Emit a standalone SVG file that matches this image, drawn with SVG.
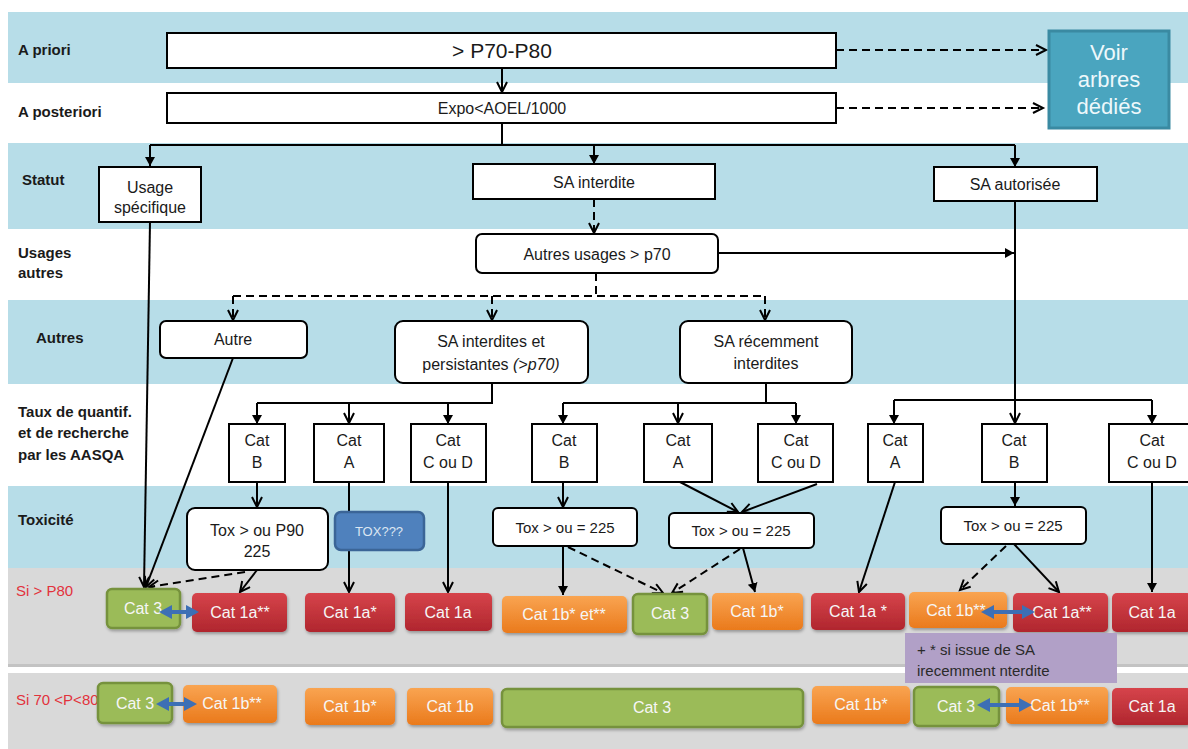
<svg xmlns="http://www.w3.org/2000/svg" width="1188" height="749" viewBox="0 0 1188 749">
<defs>
<style>
.band{fill:#b7dde8}
.gray{fill:#d9d9d9}
.gline{fill:#c3c3c3}
.box{fill:#fff;stroke:#000;stroke-width:2}
.lbl{font-family:"Liberation Sans",Arial,sans-serif;font-weight:bold;font-size:15px;fill:#1a1a1a}
.t{font-family:"Liberation Sans",Arial,sans-serif;font-size:16px;fill:#1a1a1a;text-anchor:middle}
.c{font-family:"Liberation Sans",Arial,sans-serif;font-size:16px;fill:#f6f6f6;text-anchor:middle}
.si{font-family:"Liberation Sans",Arial,sans-serif;font-size:15px;fill:#e2323c}
.red{fill:url(#gR)}
.org{fill:url(#gO)}
.grn{fill:#9bbb59;stroke:#76923c;stroke-width:2.5}
.ln{stroke:#000;stroke-width:2;fill:none}
.dash{stroke-dasharray:8,5}
.dbl{stroke:#3d6fb5;stroke-width:4;fill:none}
.sh{filter:url(#shd)}
</style>
<linearGradient id="gR" x1="0" y1="0" x2="0" y2="1">
<stop offset="0" stop-color="#d6444b"/>
<stop offset="1" stop-color="#b0262e"/>
</linearGradient>
<linearGradient id="gO" x1="0" y1="0" x2="0" y2="1">
<stop offset="0" stop-color="#f9a451"/>
<stop offset="1" stop-color="#ea7a1c"/>
</linearGradient>
<filter id="shd" x="-10%" y="-10%" width="125%" height="140%">
<feDropShadow dx="1" dy="2" stdDeviation="1.5" flood-color="#000" flood-opacity="0.3"/>
</filter>
<marker id="ao" markerUnits="userSpaceOnUse" markerWidth="14" markerHeight="14" refX="11" refY="6" orient="auto">
<path d="M1,1 L11,6 L1,11" fill="none" stroke="#000" stroke-width="2"/>
</marker>
<marker id="af" markerUnits="userSpaceOnUse" markerWidth="12" markerHeight="12" refX="9" refY="5" orient="auto">
<path d="M0,0 L9,5 L0,10 Z" fill="#000"/>
</marker>
<marker id="ab" markerUnits="userSpaceOnUse" markerWidth="16" markerHeight="16" refX="4" refY="7" orient="auto-start-reverse">
<path d="M0,0 L13,7 L0,14 Z" fill="#3d6fb5"/>
</marker>
</defs>

<g id="bands">
<rect class="band" x="8" y="12" width="1180" height="71"/>
<rect class="band" x="8" y="143" width="1180" height="86"/>
<rect class="band" x="8" y="300" width="1180" height="84"/>
<rect class="band" x="8" y="486" width="1180" height="82"/>
<rect class="gray" x="8" y="568" width="1180" height="98"/>
<rect class="gline" x="8" y="664" width="1180" height="3"/>
<rect class="gray" x="8" y="673" width="1180" height="76"/>
</g>

<g id="row-labels">
<text class="lbl" x="18" y="55">A priori</text>
<text class="lbl" x="18" y="117">A posteriori</text>
<text class="lbl" x="22" y="185">Statut</text>
<text class="lbl" x="18" y="258">Usages</text>
<text class="lbl" x="18" y="278">autres</text>
<text class="lbl" x="36" y="343">Autres</text>
<text class="lbl" x="18" y="417">Taux de quantif.</text>
<text class="lbl" x="18" y="438">et de recherche</text>
<text class="lbl" x="18" y="460">par les AASQA</text>
<text class="lbl" x="18" y="525">Toxicité</text>
<text class="si" x="16" y="596">Si &gt; P80</text>
<text class="si" x="16" y="705">Si 70 &lt;P&lt;80</text>
</g>

<g id="connectors">
<path class="ln" d="M502,68 V92" marker-end="url(#ao)"/>
<path class="ln dash" d="M836,50 H1046" marker-end="url(#ao)"/>
<path class="ln dash" d="M836,108 H1043" marker-end="url(#ao)"/>
<path class="ln" d="M502,123 V145 M150,145 H1015"/>
<path class="ln" d="M150,145 V166" marker-end="url(#af)"/>
<path class="ln" d="M594,145 V164" marker-end="url(#af)"/>
<path class="ln" d="M1015,145 V167" marker-end="url(#af)"/>
<path class="ln dash" d="M594,199 V233" marker-end="url(#ao)"/>
<path class="ln" d="M718,253 H1014" marker-end="url(#af)"/>
<path class="ln" d="M1015,201 V423" marker-end="url(#ao)"/>
<path class="ln dash" d="M596,273 V296 M233,296 H765"/>
<path class="ln dash" d="M233,296 V320" marker-end="url(#ao)"/>
<path class="ln dash" d="M492,296 V320" marker-end="url(#ao)"/>
<path class="ln dash" d="M765,296 V320" marker-end="url(#ao)"/>
<path class="ln" d="M492,383 V403 H257"/>
<path class="ln" d="M257,403 V424" marker-end="url(#af)"/>
<path class="ln" d="M349,403 V423" marker-end="url(#ao)"/>
<path class="ln" d="M448,403 V424" marker-end="url(#af)"/>
<path class="ln" d="M766,383 V403 M563,403 H796"/>
<path class="ln" d="M563,403 V424" marker-end="url(#af)"/>
<path class="ln" d="M678,403 V423" marker-end="url(#ao)"/>
<path class="ln" d="M796,403 V424" marker-end="url(#af)"/>
<path class="ln" d="M894,400 H1152"/>
<path class="ln" d="M894,400 V424" marker-end="url(#af)"/>
<path class="ln" d="M1152,400 V424" marker-end="url(#af)"/>
<path class="ln" d="M150,222 L144,587" marker-end="url(#ao)"/>
<path class="ln" d="M233,358 L146,587" marker-end="url(#ao)"/>
<path class="ln" d="M257,482 V507" marker-end="url(#ao)"/>
<path class="ln" d="M349,482 V592" marker-end="url(#ao)"/>
<path class="ln" d="M448,482 V592" marker-end="url(#ao)"/>
<path class="ln" d="M257,570 L240,592" marker-end="url(#ao)"/>
<path class="ln dash" d="M245,572 L149,587" marker-end="url(#ao)"/>
<path class="ln" d="M563,482 V507" marker-end="url(#ao)"/>
<path class="ln" d="M680,482 L738,512" marker-end="url(#ao)"/>
<path class="ln" d="M817,484 L742,512" marker-end="url(#ao)"/>
<path class="ln" d="M563,546 V595" marker-end="url(#af)"/>
<path class="ln dash" d="M568,547 L663,593" marker-end="url(#ao)"/>
<path class="ln dash" d="M740,549 L672,593" marker-end="url(#ao)"/>
<path class="ln" d="M743,548 L755,592" marker-end="url(#af)"/>
<path class="ln" d="M895,482 L859,592" marker-end="url(#ao)"/>
<path class="ln" d="M1015,482 V506" marker-end="url(#af)"/>
<path class="ln" d="M1014,544 L1059,592" marker-end="url(#ao)"/>
<path class="ln dash" d="M1006,546 L960,590" marker-end="url(#ao)"/>
<path class="ln" d="M1152,482 V592" marker-end="url(#af)"/>
</g>

<g id="n-apriori"><rect class="box" x="167" y="33" width="669" height="35"/><text class="t" x="502" y="58" style="font-size:21px">&gt; P70-P80</text></g>
<g id="n-aposteriori"><rect class="box" x="167" y="93" width="669" height="30"/><text class="t" x="502" y="114">Expo&lt;AOEL/1000</text></g>
<g id="n-voir"><rect x="1049" y="31" width="120" height="97" fill="#4aa5bf" stroke="#3a8aa2" stroke-width="3"/>
<text class="t" x="1109" y="60" style="font-size:22px;fill:#eef8fb">Voir</text>
<text class="t" x="1109" y="87" style="font-size:22px;fill:#eef8fb">arbres</text>
<text class="t" x="1109" y="114" style="font-size:22px;fill:#eef8fb">dédiés</text></g>
<g id="n-usage"><rect class="box" x="99" y="167" width="102" height="55"/><text class="t" x="150" y="193">Usage</text><text class="t" x="150" y="213">spécifique</text></g>
<g id="n-sainterdite"><rect class="box" x="473" y="164" width="242" height="35"/><text class="t" x="594" y="188">SA interdite</text></g>
<g id="n-saautorisee"><rect class="box" x="934" y="167" width="163" height="34"/><text class="t" x="1015" y="190">SA autorisée</text></g>
<g id="n-autresusages"><rect class="box" x="476" y="234" width="242" height="39" rx="6"/><text class="t" x="597" y="260">Autres usages &gt; p70</text></g>
<g id="n-autre"><rect class="box" x="160" y="321" width="147" height="37" rx="6"/><text class="t" x="233" y="345">Autre</text></g>
<g id="n-persist"><rect class="box" x="395" y="321" width="193" height="62" rx="8"/><text class="t" x="491" y="347">SA interdites et</text><text class="t" x="491" y="370">persistantes <tspan font-style="italic">(&gt;p70)</tspan></text></g>
<g id="n-recem"><rect class="box" x="680" y="321" width="172" height="62" rx="8"/><text class="t" x="766" y="347">SA récemment</text><text class="t" x="766" y="369">interdites</text></g>

<g id="n-catB1"><rect class="box" x="229" y="424" width="56" height="58"/><text class="t" x="257" y="446">Cat</text><text class="t" x="257" y="468">B</text></g>
<g id="n-catA1"><rect class="box" x="314" y="424" width="70" height="58"/><text class="t" x="349" y="446">Cat</text><text class="t" x="349" y="468">A</text></g>
<g id="n-catCD1"><rect class="box" x="411" y="424" width="75" height="58"/><text class="t" x="448" y="446">Cat</text><text class="t" x="448" y="468">C ou D</text></g>
<g id="n-catB2"><rect class="box" x="532" y="424" width="65" height="58"/><text class="t" x="564" y="446">Cat</text><text class="t" x="564" y="468">B</text></g>
<g id="n-catA2"><rect class="box" x="644" y="424" width="68" height="58"/><text class="t" x="678" y="446">Cat</text><text class="t" x="678" y="468">A</text></g>
<g id="n-catCD2"><rect class="box" x="758" y="424" width="75" height="58"/><text class="t" x="796" y="446">Cat</text><text class="t" x="796" y="468">C ou D</text></g>
<g id="n-catA3"><rect class="box" x="868" y="424" width="55" height="58"/><text class="t" x="895" y="446">Cat</text><text class="t" x="895" y="468">A</text></g>
<g id="n-catB3"><rect class="box" x="982" y="424" width="65" height="58"/><text class="t" x="1014" y="446">Cat</text><text class="t" x="1014" y="468">B</text></g>
<g id="n-catCD3"><rect class="box" x="1109" y="424" width="86" height="58"/><text class="t" x="1152" y="446">Cat</text><text class="t" x="1152" y="468">C ou D</text></g>

<g id="n-tox1"><rect class="box" x="187" y="508" width="141" height="62" rx="8"/><text class="t" x="257" y="536">Tox &gt; ou P90</text><text class="t" x="257" y="557">225</text></g>
<g id="n-toxq"><rect x="335" y="512" width="89" height="38" rx="6" fill="#4f81bd" stroke="#3b6597" stroke-width="2.5"/><text class="t" x="379" y="536" style="font-size:13px;fill:#dce6f2">TOX???</text></g>
<g id="n-tox2"><rect class="box" x="493" y="508" width="144" height="38" rx="5"/><text class="t" x="565" y="533" style="font-size:15px">Tox &gt; ou = 225</text></g>
<g id="n-tox3"><rect class="box" x="669" y="513" width="145" height="35" rx="5"/><text class="t" x="741" y="536" style="font-size:15px">Tox &gt; ou = 225</text></g>
<g id="n-tox4"><rect class="box" x="941" y="507" width="145" height="37" rx="5"/><text class="t" x="1013" y="531" style="font-size:15px">Tox &gt; ou = 225</text></g>

<g id="r1-cat3"><rect class="grn sh" x="107" y="589" width="73" height="39" rx="5"/><text class="c" x="143" y="614">Cat 3</text></g>
<g id="r1-cat1a2s"><rect class="red sh" x="192" y="593" width="95" height="39" rx="5"/><text class="c" x="240" y="618">Cat 1a**</text></g>
<g id="r1-cat1a1s"><rect class="red sh" x="305" y="593" width="90" height="39" rx="5"/><text class="c" x="350" y="618">Cat 1a*</text></g>
<g id="r1-cat1a"><rect class="red sh" x="405" y="593" width="87" height="38" rx="5"/><text class="c" x="448" y="618">Cat 1a</text></g>
<g id="r1-cat1bet"><rect class="org sh" x="502" y="596" width="125" height="37" rx="5"/><text class="c" x="564" y="620">Cat 1b* et**</text></g>
<g id="r1-cat3b"><rect class="grn sh" x="633" y="594" width="74" height="40" rx="5"/><text class="c" x="670" y="619">Cat 3</text></g>
<g id="r1-cat1b1s"><rect class="org sh" x="712" y="593" width="91" height="37" rx="5"/><text class="c" x="757" y="617">Cat 1b*</text></g>
<g id="r1-cat1a1sb"><rect class="red sh" x="811" y="593" width="94" height="37" rx="5"/><text class="c" x="858" y="617">Cat 1a *</text></g>
<g id="r1-cat1b2s"><rect class="org sh" x="909" y="592" width="98" height="36" rx="5"/><text class="c" x="956" y="616">Cat 1b**</text></g>
<g id="r1-cat1a2sb"><rect class="red sh" x="1013" y="593" width="95" height="39" rx="5"/><text class="c" x="1062" y="618">Cat 1a**</text></g>
<g id="r1-cat1ab"><rect class="red sh" x="1112" y="593" width="80" height="39" rx="5"/><text class="c" x="1152" y="618">Cat 1a</text></g>

<g id="note"><rect x="905" y="633" width="212" height="50" fill="#b1a0c7"/>
<text x="917" y="655" style="font-family:'Liberation Sans',Arial,sans-serif;font-size:15px;fill:#2a2a2a">+ * si issue  de SA</text>
<text x="917" y="676" style="font-family:'Liberation Sans',Arial,sans-serif;font-size:15px;fill:#2a2a2a">irecemment nterdite</text></g>

<g id="r2-cat3"><rect class="grn sh" x="98" y="683" width="74" height="40" rx="5"/><text class="c" x="135" y="709">Cat 3</text></g>
<g id="r2-cat1b2s"><rect class="org sh" x="183" y="685" width="94" height="38" rx="5"/><text class="c" x="232" y="709">Cat 1b**</text></g>
<g id="r2-cat1b1s"><rect class="org sh" x="305" y="688" width="90" height="37" rx="5"/><text class="c" x="350" y="712">Cat 1b*</text></g>
<g id="r2-cat1b"><rect class="org sh" x="407" y="688" width="86" height="37" rx="5"/><text class="c" x="450" y="712">Cat 1b</text></g>
<g id="r2-cat3wide"><rect class="grn sh" x="502" y="689" width="301" height="38" rx="5"/><text class="c" x="652" y="713">Cat 3</text></g>
<g id="r2-cat1b1sb"><rect class="org sh" x="812" y="686" width="98" height="38" rx="5"/><text class="c" x="861" y="710">Cat 1b*</text></g>
<g id="r2-cat3b"><rect class="grn sh" x="914" y="687" width="85" height="39" rx="5"/><text class="c" x="956" y="712">Cat 3</text></g>
<g id="r2-cat1b2sb"><rect class="org sh" x="1006" y="687" width="102" height="37" rx="5"/><text class="c" x="1060" y="711">Cat 1b**</text></g>
<g id="r2-cat1a"><rect class="red sh" x="1112" y="688" width="80" height="37" rx="5"/><text class="c" x="1152" y="712">Cat 1a</text></g>

<g id="double-arrows">
<path class="dbl" d="M168,612 H190" marker-start="url(#ab)" marker-end="url(#ab)"/>
<path class="dbl" d="M165,704 H188" marker-start="url(#ab)" marker-end="url(#ab)"/>
<path class="dbl" d="M990,612 H1026" marker-start="url(#ab)" marker-end="url(#ab)"/>
<path class="dbl" d="M986,705 H1023" marker-start="url(#ab)" marker-end="url(#ab)"/>
</g>
</svg>
